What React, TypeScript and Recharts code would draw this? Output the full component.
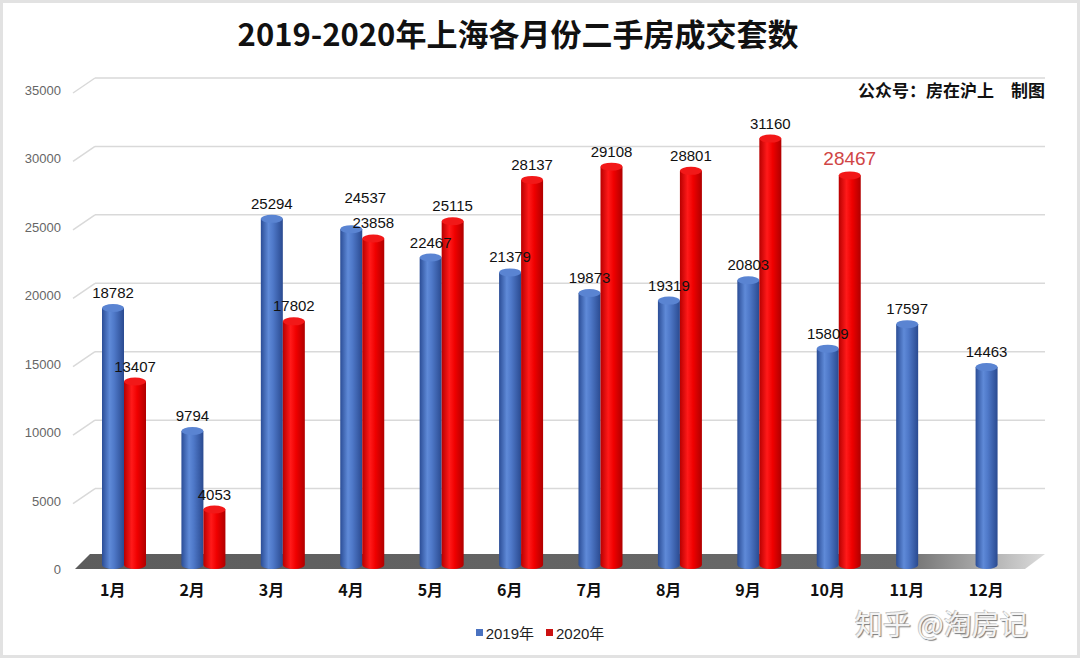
import React from "react";
import {
  BarChart,
  Bar,
  XAxis,
  YAxis,
  CartesianGrid,
  LabelList,
} from "recharts";

const MONTHS = ["1月", "2月", "3月", "4月", "5月", "6月", "7月", "8月", "9月", "10月", "11月", "12月"];
const SALES_2019 = [18782, 9794, 25294, 24537, 22467, 21379, 19873, 19319, 20803, 15809, 17597, 14463];
const SALES_2020 = [13407, 4053, 17802, 23858, 25115, 28137, 29108, 28801, 31160, 28467, null, null];
const Y_TICKS = [0, 5000, 10000, 15000, 20000, 25000, 30000, 35000];
const HIGHLIGHT_INDEX = 9; // latest month, shown in red

const data = MONTHS.map((m, i) => ({
  month: m,
  y2019: SALES_2019[i],
  y2020: SALES_2020[i],
}));

const FONT = "'Liberation Sans', Arial, 'Noto Sans CJK SC', sans-serif";
const CJK = "'Noto Sans CJK SC', 'Liberation Sans', sans-serif";

function Cylinder(props: any) {
  const { x, y, width, height, gradId, topFill } = props;
  if (!height || height <= 0) return null;
  const cx = x + width / 2;
  const rx = width / 2;
  const ry = 4;
  return (
    <g>
      <path
        d={`M${x},${y} L${x},${y + height} A${rx},${ry} 0 0 0 ${x + width},${y + height} L${x + width},${y} Z`}
        fill={`url(#${gradId})`}
      />
      <ellipse cx={cx} cy={y} rx={rx} ry={ry} fill={topFill} />
    </g>
  );
}

function GridLine(props: any) {
  const { x1, x2, y1, index } = props;
  if (y1 > 560) {
    // floor
    return (
      <polygon
        key={`floor-${index}`}
        points={`${x1 + 6},${y1 - 11} ${x2 + 8},${y1 - 11} ${x2 - 12},${y1 + 4} ${x1 - 9},${y1 + 4}`}
        fill="url(#floorGrad)"
      />
    );
  }
  return (
    <g key={`grid-${index}`}>
      <line x1={x1 + 11} y1={y1 - 8} x2={x2 + 8} y2={y1 - 8} stroke="#d9d9d9" strokeWidth={1.5} />
      <line x1={x1 - 11} y1={y1 + 7} x2={x1 + 11} y2={y1 - 8} stroke="#d9d9d9" strokeWidth={1.5} />
    </g>
  );
}

function YTick(props: any) {
  const { y, payload } = props;
  return (
    <text x={61} y={y + 9} textAnchor="end" fontSize={13} fill="#666" fontFamily={FONT}>
      {payload.value}
    </text>
  );
}

function XTick(props: any) {
  const { x, y, payload } = props;
  return (
    <text x={x - 11} y={y + 23} textAnchor="middle" fontSize={16} fontWeight="bold" fill="#111" fontFamily={CJK}>
      {payload.value}
    </text>
  );
}

function makeLabel(series: string) {
  return (props: any) => {
    const { x, y, width, value, index } = props;
    if (value == null) return null;
    const hl = series === "2020" && index === HIGHLIGHT_INDEX;
    let ly = y - 10;
    let lx = x + width / 2;
    if (series === "2019") {
      // lift the 2019 label when it would sit on the neighbouring 2020 label
      const other = data[index]?.y2020;
      if (other != null && Math.abs(other - value) < 1200) {
        ly -= 16;
        lx += 14;
      }
    }
    return (
      <text
        x={lx}
        y={ly}
        textAnchor="middle"
        fontSize={hl ? 19 : 15}
        fill={hl ? "#d04545" : "#111"}
        fontFamily={FONT}
      >
        {value}
      </text>
    );
  };
}

export default function App() {
  return (
    <div style={{ position: "absolute", left: 0, top: 0, width: 1080, height: 658, background: "#fff", overflow: "hidden" }}>
      <div
        style={{
          position: "absolute",
          left: 0,
          top: 0,
          width: 1074,
          height: 652,
          border: "3px solid #e2e2e2",
        }}
      />
      <div
        style={{
          position: "absolute",
          top: 10,
          left: -22,
          width: 1080,
          textAlign: "center",
          fontFamily: CJK,
          fontWeight: 700,
          fontSize: 31,
          color: "#111",
        }}
      >
        2019-2020年上海各月份二手房成交套数
      </div>
      <div
        style={{
          position: "absolute",
          top: 77,
          right: 35,
          fontFamily: CJK,
          fontWeight: 700,
          fontSize: 17,
          color: "#111",
          whiteSpace: "pre",
        }}
      >
        公众号：房在沪上　制图
      </div>

      <div style={{ position: "absolute", left: 0, top: 0 }}>
        <BarChart
          width={1080}
          height={658}
          data={data}
          margin={{ top: 86, right: 43, bottom: 63, left: 24 }}
          barGap={0}
          barSize={22}
        >
          <defs>
            <linearGradient id="blueGrad" x1="0" y1="0" x2="1" y2="0">
              <stop offset="0%" stopColor="#2b4d96" />
              <stop offset="35%" stopColor="#5f8ad8" />
              <stop offset="55%" stopColor="#4f79c9" />
              <stop offset="100%" stopColor="#2a4a90" />
            </linearGradient>
            <linearGradient id="redGrad" x1="0" y1="0" x2="1" y2="0">
              <stop offset="0%" stopColor="#b80000" />
              <stop offset="35%" stopColor="#ff1a1a" />
              <stop offset="60%" stopColor="#f00000" />
              <stop offset="100%" stopColor="#b00000" />
            </linearGradient>
            <linearGradient id="floorGrad" x1="0" y1="0" x2="1" y2="0">
              <stop offset="0%" stopColor="#5c5c5c" />
              <stop offset="85%" stopColor="#6a6a6a" />
              <stop offset="100%" stopColor="#dcdcdc" />
            </linearGradient>
          </defs>
          <CartesianGrid vertical={false} horizontal={GridLine as any} />
          <XAxis dataKey="month" axisLine={false} tickLine={false} tick={<XTick />} interval={0} />
          <YAxis
            width={60}
            domain={[0, 35000]}
            ticks={Y_TICKS}
            axisLine={false}
            tickLine={false}
            tick={<YTick />}
            interval={0}
          />
          <Bar
            dataKey="y2019"
            isAnimationActive={false}
            shape={(p: any) => <Cylinder {...p} gradId="blueGrad" topFill="#5a84d2" />}
          >
            <LabelList dataKey="y2019" content={makeLabel("2019")} />
          </Bar>
          <Bar
            dataKey="y2020"
            isAnimationActive={false}
            shape={(p: any) => <Cylinder {...p} gradId="redGrad" topFill="#f21818" />}
          >
            <LabelList dataKey="y2020" content={makeLabel("2020")} />
          </Bar>
        </BarChart>
      </div>

      <div
        style={{
          position: "absolute",
          top: 622,
          left: 0,
          width: 1080,
          display: "flex",
          justifyContent: "center",
          alignItems: "center",
          fontFamily: FONT,
          fontSize: 15,
          color: "#222",
          gap: 12,
        }}
      >
        <span style={{ display: "flex", alignItems: "center" }}>
          <span style={{ width: 7, height: 7, background: "#4a72c0", marginRight: 3 }} />
          2019年
        </span>
        <span style={{ display: "flex", alignItems: "center" }}>
          <span style={{ width: 7, height: 7, background: "#cc1111", marginRight: 3 }} />
          2020年
        </span>
      </div>

      <div
        style={{
          position: "absolute",
          top: 609,
          left: 855,
          fontFamily: CJK,
          fontSize: 28,
          lineHeight: 1,
          color: "#f4f4f4",
          textShadow: "1px 1px 1px #7a7a7a, -1px -1px 0 #c8c8c8",
          whiteSpace: "pre",
        }}
      >
        知乎 @淘房记
      </div>
    </div>
  );
}
